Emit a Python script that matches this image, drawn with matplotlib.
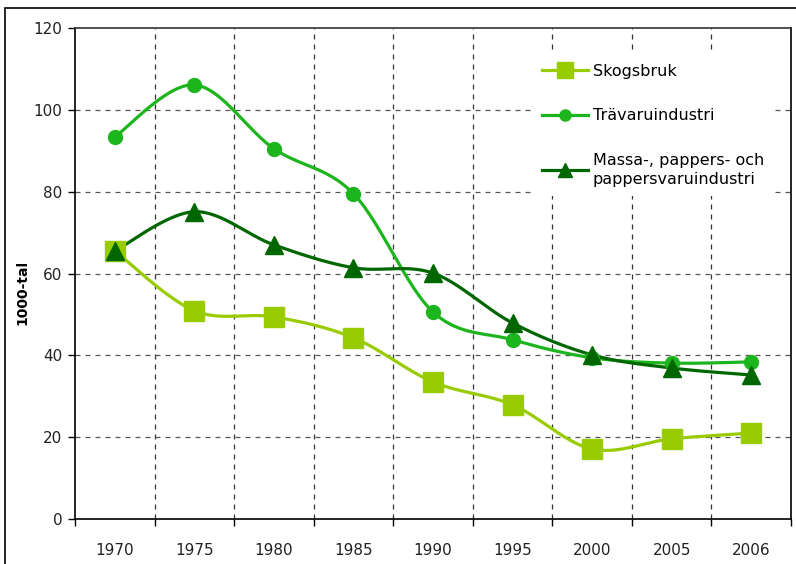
import matplotlib
matplotlib.use('Agg')
import matplotlib.pyplot as plt
import matplotlib.patches as mpatches
import numpy as np

years = ['1970', '1975', '1980', '1985', '1990', '1995', '2000', '2005', '2006']
skogsbruk = [65.5, 50.9, 49.4, 44.3, 33.5, 27.9, 17.1, 19.6, 21.0]
travaru = [93.4, 106.1, 90.5, 79.5, 50.6, 43.8, 39.4, 38.1, 38.4]
massa = [65.5, 75.1, 67.0, 61.4, 60.1, 47.9, 40.1, 36.9, 35.2]

labels = ['Skogsbruk', 'Trävaruindustri', 'Massa-, pappers- och\npappersvaruindustri']
colors = ['#99CC00', '#1DB51D', '#006600']


def smooth(x, y, n=30):
    # excel-like smoothed line (catmull-rom as cubic bezier)
    x = np.asarray(x, float)
    y = np.asarray(y, float)
    px = np.concatenate([[x[0]], x, [x[-1]]])
    py = np.concatenate([[y[0]], y, [y[-1]]])
    xs, ys = [], []
    t = np.linspace(0, 1, n)
    for i in range(1, len(px) - 2):
        p0 = np.array([px[i], py[i]])
        p3 = np.array([px[i + 1], py[i + 1]])
        b1 = p0 + (np.array([px[i + 1], py[i + 1]]) - np.array([px[i - 1], py[i - 1]])) / 6
        b2 = p3 - (np.array([px[i + 2], py[i + 2]]) - np.array([px[i], py[i]])) / 6
        pts = ((1 - t) ** 3)[:, None] * p0 + (3 * (1 - t) ** 2 * t)[:, None] * b1 \
            + (3 * (1 - t) * t ** 2)[:, None] * b2 + (t ** 3)[:, None] * p3
        xs.extend(pts[:, 0])
        ys.extend(pts[:, 1])
    return xs, ys


fig = plt.figure(figsize=(7.96, 5.64), dpi=100)
ax = fig.add_axes([75 / 796, 45 / 564, 716 / 796, 491 / 564])

x = np.arange(len(years))
series = [skogsbruk, travaru, massa]
markers = ['s', 'o', '^']
msizes = [14.5, 10, 13]
handles = []
for vals, lab, c, m, ms in zip(series, labels, colors, markers, msizes):
    sx, sy = smooth(x, vals)
    ax.plot(sx, sy, color=c, lw=2.3, zorder=3, solid_capstyle='round')
    ax.plot(x, vals, linestyle='none', marker=m, ms=ms, color=c,
            markeredgecolor=c, zorder=4)
    handles.append(plt.Line2D([], [], color=c, lw=2.3, marker=m, ms=ms * 0.8,
                              markeredgecolor=c))

ax.set_xlim(-0.5, len(years) - 0.5)
ax.set_ylim(0, 120)
ax.set_yticks(np.arange(0, 121, 20))
ax.set_xticks(x)
ax.set_xticklabels(years)
ax.set_xticks(np.arange(-0.5, len(years), 1), minor=True)
ax.tick_params(axis='x', which='major', length=0, pad=17, labelsize=11, labelcolor='#222222')
ax.tick_params(axis='x', which='minor', length=5, width=1, direction='out')
ax.tick_params(axis='y', length=5, width=1, pad=4, labelsize=11, labelcolor='#222222')

ax.grid(False)
for v in np.arange(0.5, len(years) - 1, 1):
    ax.axvline(v, color='#333333', lw=0.9, linestyle=(0, (4, 4)), zorder=1)
for h in [20, 40, 60, 80, 100]:
    ax.axhline(h, color='#555555', lw=0.9, linestyle=(0, (4, 4)), zorder=1)

for s in ax.spines.values():
    s.set_linewidth(1.2)
    s.set_color('black')
ax.spines['top'].set_color('#333333')

fig.text(22 / 796, 272 / 564, '1000-tal', rotation=90, fontsize=10, fontweight='bold',
         ha='center', va='center')

leg = ax.legend(handles, labels, loc='upper left', bbox_to_anchor=(524 / 796, 1 - 46 / 564),
                bbox_transform=fig.transFigure, frameon=True, fontsize=11.5,
                handlelength=2.9, handletextpad=0.3, labelspacing=1.85,
                borderpad=0.6, fancybox=False)
leg.get_frame().set_edgecolor('none')
leg.get_frame().set_facecolor('white')
leg.get_frame().set_alpha(1)
leg.get_texts()[2].set_linespacing(1.35)
leg.set_zorder(2)

# outer chart border
fig.patches.append(mpatches.Rectangle((5 / 796, -0.05), 1.0, 1 - 8 / 564 + 0.05,
                                      transform=fig.transFigure, fill=False,
                                      edgecolor='black', lw=1.2))

fig.savefig('out.png', dpi=100)
